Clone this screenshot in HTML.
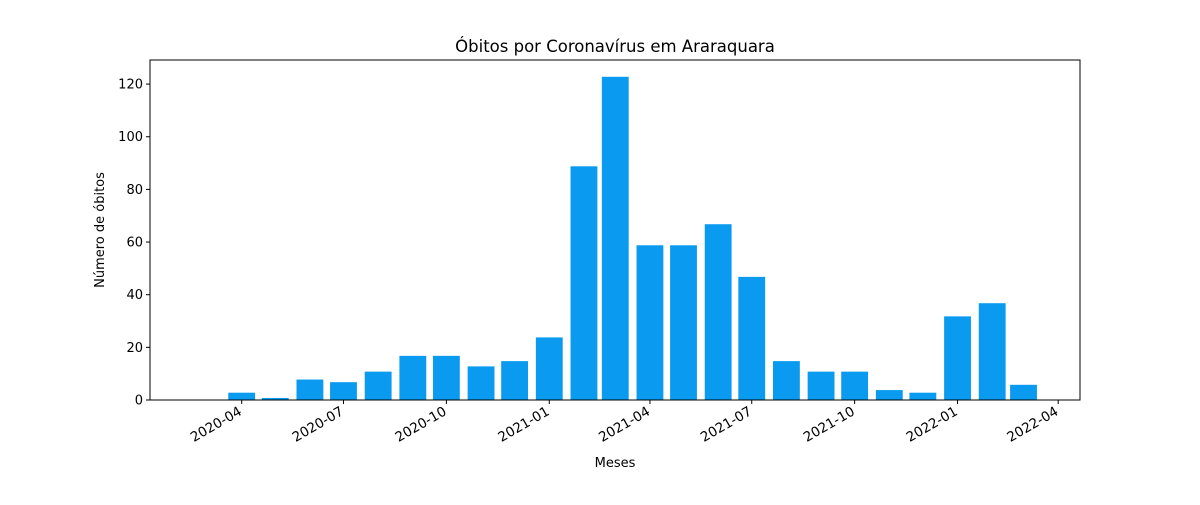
<!DOCTYPE html>
<html><head><meta charset="utf-8"><style>
body{margin:0;background:#fff;}
svg text{font-family:"DejaVu Sans","Liberation Sans",sans-serif;fill:#000;}
</style></head><body>
<svg id="chart" width="1200" height="500" xmlns="http://www.w3.org/2000/svg">
<text x="615" y="52" font-size="16.5" text-anchor="middle">Óbitos por Coronavírus em Araraquara</text>
<text x="615" y="467" font-size="13" text-anchor="middle">Meses</text>
<text transform="translate(104,230) rotate(-90)" font-size="13" text-anchor="middle">Número de óbitos</text>
<g id="bars"></g><g id="axes"></g>
</svg>
<script>
const months = ["2020-04","2020-05","2020-06","2020-07","2020-08","2020-09","2020-10","2020-11","2020-12","2021-01","2021-02","2021-03","2021-04","2021-05","2021-06","2021-07","2021-08","2021-09","2021-10","2021-11","2021-12","2022-01","2022-02","2022-03"];
const deaths = [3,1,8,7,11,17,17,13,15,24,89,123,59,59,67,47,15,11,11,4,3,32,37,6];
const xTickLabels = ["2020-04","2020-07","2020-10","2021-01","2021-04","2021-07","2021-10","2022-01","2022-04"];
const yTickValues = [0,20,40,60,80,100,120];

const NS="http://www.w3.org/2000/svg";
const L=150,R=1080,T=60,B=400;
const d0=Date.UTC(2020,3,1), pxPerDay=(1058.2-241.7)/730;
function day(s){const [y,m]=s.split("-").map(Number);return (Date.UTC(y,m-1,1)-d0)/86400000;}
function xs(s){return 241.7+day(s)*pxPerDay;}
const yMax=Math.max(...deaths)*1.05;
function ys(v){return B-(v/yMax)*(B-T);}
function mk(tag,attrs,parent){const e=document.createElementNS(NS,tag);for(const k in attrs)e.setAttribute(k,attrs[k]);parent.appendChild(e);return e;}
const bars=document.getElementById("bars"),axes=document.getElementById("axes");
const bw=24*pxPerDay;
months.forEach((m,i)=>{
  const r=mk("rect",{x:xs(m)-bw/2,y:ys(deaths[i])+0.6,width:bw,height:B-ys(deaths[i])-0.6,fill:"#0a9bf0"},bars);
  
  
});
const frame=mk("rect",{x:L,y:T,width:R-L,height:B-T,fill:"none",stroke:"#000","stroke-width":1},axes);


yTickValues.forEach(v=>{
  const y=ys(v);
  mk("line",{x1:L-4,x2:L,y1:y,y2:y,stroke:"#000"},axes);
  const t=mk("text",{x:L-7,y:y+4.5,"font-size":13,"text-anchor":"end"},axes);
  t.textContent=v;
  
  
});
xTickLabels.forEach(s=>{
  const x=xs(s);
  mk("line",{x1:x,x2:x,y1:B,y2:B+4,stroke:"#000"},axes);
  const t=mk("text",{transform:`translate(${x+1},${B+14}) rotate(-30)`,"font-size":13.5,"text-anchor":"end"},axes);
  t.textContent=s;
  
  
});
</script>
</body></html>
